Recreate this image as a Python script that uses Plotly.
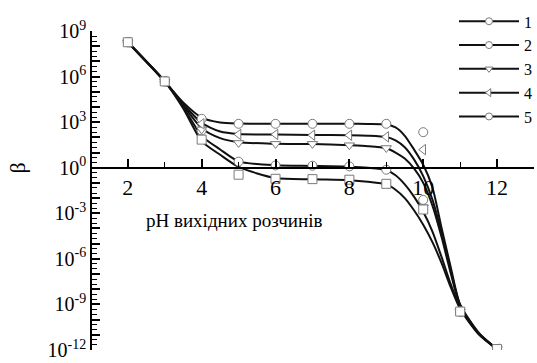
import numpy as np
import plotly.graph_objects as go

# ---- data (log10 of beta) ----
ph_points = [2, 3, 4, 5, 6, 7, 8, 9, 10, 11, 12]
s1_log = [8.26, 5.68, 3.22, 2.89, 2.89, 2.89, 2.89, 2.89, 2.34, -9.47, -11.94]
s2_log = [8.26, 5.68, 2.45, 0.40, 0.15, 0.13, 0.09, -0.13, -2.12, -9.47, -11.94]
s3_log = [8.26, 5.68, 2.52, 1.63, 1.57, 1.57, 1.48, 1.30, -2.60, -9.47, -11.94]
s4_log = [8.26, 5.68, 2.89, 2.19, 2.19, 2.14, 2.14, 2.03, 1.19, -9.47, -11.94]
s5_log = [8.26, 5.68, 1.85, -0.46, -0.73, -0.75, -0.79, -1.06, -2.75, -9.47, -11.94]

# fitted curves
ph_curve = [2, 3, 3.5, 4, 4.5, 5, 6, 7, 8, 8.5, 9, 9.25, 9.5, 9.75, 10, 10.25, 10.5, 10.75, 11, 11.5, 12]
c1_log = [8.26, 5.68, 4.30, 3.30, 2.98, 2.91, 2.89, 2.89, 2.89, 2.88, 2.84, 2.65, 2.10, 1.20, 0.20, -1.30, -4.00, -6.60, -9.00, -10.85, -11.94]
c2_log = [8.26, 5.68, 4.00, 2.10, 1.20, 0.42, 0.16, 0.12, 0.07, 0.00, -0.15, -0.50, -1.10, -1.90, -2.90, -4.20, -5.90, -7.70, -9.20, -10.95, -11.94]
c3_log = [8.26, 5.68, 4.10, 2.60, 1.95, 1.68, 1.58, 1.56, 1.48, 1.42, 1.28, 1.00, 0.60, -0.05, -1.00, -2.50, -4.60, -7.00, -9.10, -10.90, -11.94]
c4_log = [8.26, 5.68, 4.20, 2.95, 2.38, 2.22, 2.18, 2.16, 2.14, 2.11, 2.02, 1.80, 1.35, 0.55, -0.55, -2.10, -4.30, -6.80, -9.05, -10.90, -11.94]
c5_log = [8.26, 5.68, 3.90, 1.75, 0.85, 0.05, -0.68, -0.76, -0.82, -0.92, -1.10, -1.45, -2.00, -2.80, -3.75, -4.90, -6.30, -7.90, -9.30, -10.95, -11.94]

series_names = ["1", "2", "3", "4", "5"]
point_sets = [s1_log, s2_log, s3_log, s4_log, s5_log]
curve_sets = [c1_log, c2_log, c3_log, c4_log, c5_log]
data_symbols = ["circle", "circle", "triangle-down", "triangle-left", "square"]
legend_symbols = ["circle", "circle", "triangle-down", "triangle-left", "circle"]

x_ticks = [2, 4, 6, 8, 10, 12]
y_exp = list(range(-12, 10))

SERIF = "Liberation Serif, Times New Roman, serif"
MARKER_EDGE = "#7a7a7a"

fig = go.Figure()

for c in curve_sets:
    fig.add_trace(go.Scatter(
        x=ph_curve, y=10 ** np.array(c), mode="lines",
        line=dict(color="#111111", width=2, shape="spline", smoothing=0.7),
        showlegend=False, hoverinfo="skip"))

for pts, sym in zip(point_sets, data_symbols):
    fig.add_trace(go.Scatter(
        x=ph_points, y=10 ** np.array(pts), mode="markers",
        marker=dict(symbol=sym, size=9, color="white",
                    line=dict(color=MARKER_EDGE, width=1)),
        showlegend=False))

for name, sym in zip(series_names, legend_symbols):
    fig.add_trace(go.Scatter(
        x=[None], y=[None], mode="lines+markers", name=name,
        line=dict(color="#111111", width=2),
        marker=dict(symbol=sym, size=7, color="white",
                    line=dict(color=MARKER_EDGE, width=1))))

y_ticktext = [f"10<sup>{k}</sup>" if k % 3 == 0 else "" for k in y_exp]
y_minor = [10 ** (k + f) for k in range(-12, 9) for f in (1 / 3, 2 / 3)]

fig.update_layout(
    width=537, height=363,
    margin=dict(l=92, r=3, t=31, b=13, autoexpand=False),
    paper_bgcolor="white", plot_bgcolor="white",
    font=dict(family=SERIF, color="black", size=19),
    xaxis=dict(
        range=[1.03, 13.0], showgrid=False, zeroline=False,
        showline=True, linecolor="black", linewidth=1.5,
        anchor="free", position=12 / 21,
        tickvals=x_ticks, ticks="inside", ticklen=8, tickwidth=1.5,
        tickcolor="black", tickfont=dict(family=SERIF, size=22),
        minor=dict(tickvals=[3, 5, 7, 9, 11, 13], ticks="inside",
                   ticklen=5, tickwidth=1.2, tickcolor="black"),
    ),
    yaxis=dict(
        type="log", range=[-12, 9], showgrid=False, zeroline=False,
        showline=True, linecolor="black", linewidth=1.5,
        tickvals=[10 ** k for k in y_exp], ticktext=y_ticktext,
        ticks="inside", ticklen=8, tickwidth=1.5, tickcolor="black",
        tickfont=dict(family=SERIF, size=20),
        minor=dict(tickvals=y_minor, ticks="inside", ticklen=5,
                   tickwidth=1.2, tickcolor="black"),
    ),
    legend=dict(
        xref="container", yref="container",
        x=1.0, xanchor="right", y=0.988, yanchor="top",
        bgcolor="rgba(0,0,0,0)", font=dict(family=SERIF, size=16),
        itemwidth=60, tracegroupgap=0,
    ),
    annotations=[
        dict(text="pH вихідних розчинів", xref="paper", yref="paper",
             x=0.321, y=0.405, xanchor="center", yanchor="middle",
             showarrow=False, font=dict(family=SERIF, size=19)),
        dict(text="β", xref="paper", yref="paper",
             x=-0.168, y=12 / 21, xanchor="center", yanchor="middle",
             textangle=-90, showarrow=False, font=dict(family=SERIF, size=22)),
    ],
)

fig.write_html("out.html")
